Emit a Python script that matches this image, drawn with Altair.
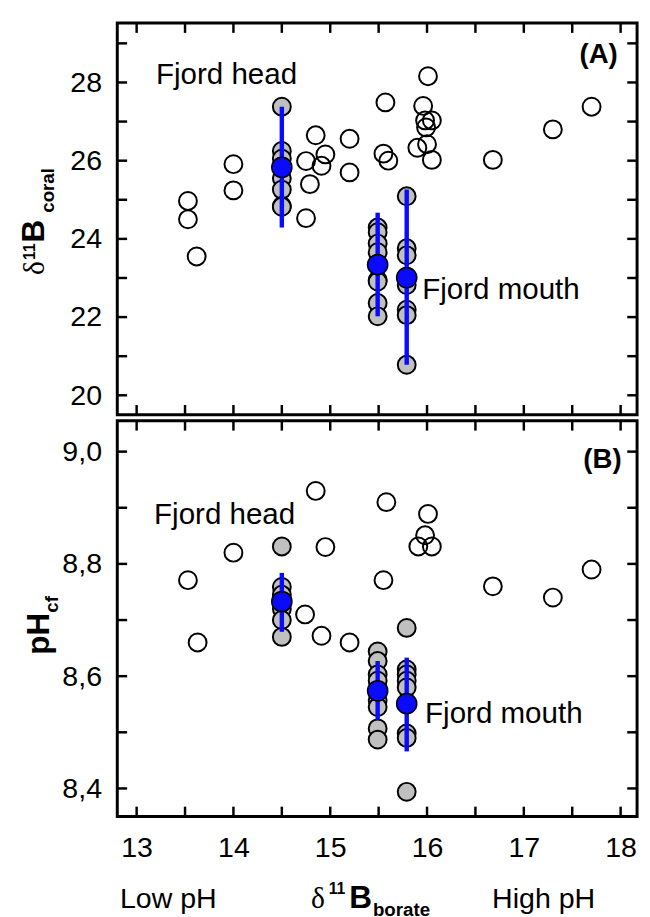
import altair as alt
import pandas as pd

FONT = "Liberation Sans"
SERIF = "Liberation Serif"

# ---------------- axes ----------------
X_DOMAIN = [12.8, 18.17]
A_DOMAIN = [19.5, 29.52]
B_DOMAIN = [8.35, 9.055]
W = 528
HA = 398
HB = 402
TL = 10  # tick length

x_labels = [13, 14, 15, 16, 17, 18]
x_ticks = [13, 13.5, 14, 14.5, 15, 15.5, 16, 16.5, 17, 17.5, 18]
a_labels = [20, 22, 24, 26, 28]
a_ticks = [20, 21, 22, 23, 24, 25, 26, 27, 28, 29]
b_labels = [8.4, 8.6, 8.8, 9.0]
b_ticks = [8.4, 8.5, 8.6, 8.7, 8.8, 8.9, 9.0]

# ---------------- panel A data ----------------
a_open_x = [13.53, 13.53, 13.62, 14.0, 14.0, 14.75, 14.85, 14.95, 14.91, 14.79, 14.75,
            15.2, 15.2, 15.57, 15.55, 15.60, 16.01, 15.96, 15.98, 16.05, 15.99, 15.90,
            16.0, 16.05, 16.68, 17.30, 17.70]
a_open_y = [24.97, 24.50, 23.55, 25.91, 25.24, 25.99, 26.65, 26.16, 25.87, 25.40, 24.53,
            26.56, 25.70, 27.49, 26.18, 26.0, 28.16, 27.40, 27.03, 27.03, 26.85, 26.33,
            26.42, 26.02, 26.02, 26.80, 27.38]
a_gray_x = [14.5, 14.5, 14.5, 14.5, 14.5, 14.5, 14.5, 14.5,
            15.49, 15.49, 15.49, 15.49, 15.49, 15.49, 15.49, 15.49, 15.49,
            15.79, 15.79, 15.79, 15.79, 15.79, 15.79, 15.79, 15.79]
a_gray_y = [27.38, 26.25, 26.05, 25.85, 25.55, 25.26, 24.84, 24.82,
            24.29, 24.17, 23.88, 23.66, 23.34, 22.95, 22.91, 22.36, 22.02,
            25.09, 23.76, 23.58, 23.03, 22.82, 22.19, 22.05, 20.78]
a_mean_x = [14.5, 15.49, 15.79]
a_mean_y = [25.83, 23.34, 23.01]
a_lo = [24.29, 22.02, 20.78]
a_hi = [27.38, 24.67, 25.26]

# ---------------- panel B data ----------------
b_open_x = [14.85, 14.0, 13.53, 13.63, 14.95, 14.74, 14.91, 15.2, 15.58, 16.01, 15.98,
            15.91, 16.05, 15.55, 16.68, 17.30, 17.70]
b_open_y = [8.930, 8.820, 8.771, 8.660, 8.830, 8.710, 8.672, 8.660, 8.910, 8.889, 8.851,
            8.831, 8.831, 8.771, 8.760, 8.740, 8.790]
b_gray_x = [14.5, 14.5, 14.5, 14.5, 14.5, 14.5,
            15.49, 15.49, 15.49, 15.49, 15.49, 15.49, 15.49, 15.49,
            15.79, 15.79, 15.79, 15.79, 15.79, 15.79, 15.79, 15.79, 15.79]
b_gray_y = [8.831, 8.759, 8.745, 8.720, 8.700, 8.670,
            8.644, 8.627, 8.603, 8.592, 8.557, 8.545, 8.507, 8.487,
            8.686, 8.612, 8.603, 8.592, 8.580, 8.551, 8.498, 8.490, 8.394]
b_mean_x = [14.5, 15.49, 15.79]
b_mean_y = [8.733, 8.574, 8.551]
b_lo = [8.679, 8.522, 8.466]
b_hi = [8.784, 8.627, 8.633]

# annotations (data coordinates)
a_notes = pd.DataFrame({"x": [13.2, 15.95], "y": [28.2, 22.7], "t": ["Fjord head", "Fjord mouth"]})
b_notes = pd.DataFrame({"x": [13.18, 15.98], "y": [8.886, 8.533], "t": ["Fjord head", "Fjord mouth"]})
a_tag = pd.DataFrame({"x": [17.97], "y": [28.7], "t": ["(A)"]})
b_tag = pd.DataFrame({"x": [18.01], "y": [8.985], "t": ["(B)"]})

# composite titles: (text, px, py, size, weight, family, angle)
a_title = [
    ("\u03b4", -74.3, 256.0, 30, "normal", SERIF, 270),
    ("11", -83.8, 240.7, 16, "bold", FONT, 270),
    ("B", -74.0, 223.0, 32, "bold", FONT, 270),
    ("coral", -64.3, 192.7, 19, "bold", FONT, 270),
]
b_title = [
    ("pH", -69.3, 237.7, 32, "bold", FONT, 270),
    ("cf", -60.3, 195.0, 19, "bold", FONT, 270),
    ("Low pH", 2.7, 495, 29, "normal", FONT, 0),
    ("\u03b4", 196.7, 495, 30, "normal", SERIF, 0),
    ("11", 214.7, 481, 16, "bold", FONT, 0),
    ("B", 235.7, 495, 32, "bold", FONT, 0),
    ("borate", 259.7, 503, 19, "bold", FONT, 0),
    ("High pH", 380.7, 495, 29, "normal", FONT, 0),
]


def text_piece(t, px, py, size, weight, family, angle):
    return alt.Chart(pd.DataFrame({"k": [0]})).mark_text(
        align="left", baseline="alphabetic", fontSize=size, fontWeight=weight,
        font=family, angle=angle, color="black"
    ).encode(x=alt.value(px), y=alt.value(py), text=alt.value(t))


def panel(open_x, open_y, gray_x, gray_y, mx, my, lo, hi, ydom, H,
          ylabels, yticks, lexpr, show_x, notes, tag, title_pieces):
    xscale = alt.Scale(domain=X_DOMAIN, nice=False, zero=False)
    yscale = alt.Scale(domain=ydom, nice=False, zero=False)
    if show_x:
        xaxis = alt.Axis(values=x_labels, title=None, labelPadding=18, format="d",
                         grid=False, domain=False, ticks=False, tickSize=0,
                         labelFont=FONT, labelFontSize=29, labelColor="black")
    else:
        xaxis = None
    yaxis = alt.Axis(values=ylabels, title=None, labelPadding=16, labelExpr=lexpr,
                     grid=False, domain=False, ticks=False, tickSize=0,
                     labelFont=FONT, labelFontSize=29, labelColor="black")

    def X():
        return alt.X("x:Q", scale=xscale, axis=xaxis)

    def Y():
        return alt.Y("y:Q", scale=yscale, axis=yaxis)

    xt = pd.DataFrame({"x": x_ticks})
    yt = pd.DataFrame({"y": yticks})
    tick_style = dict(color="black", strokeWidth=2.5)
    layers = [
        alt.Chart(xt).mark_rule(**tick_style).encode(x=X(), y=alt.value(0), y2=alt.value(TL)),
        alt.Chart(xt).mark_rule(**tick_style).encode(x=X(), y=alt.value(H - TL), y2=alt.value(H)),
        alt.Chart(yt).mark_rule(**tick_style).encode(y=Y(), x=alt.value(0), x2=alt.value(TL)),
        alt.Chart(yt).mark_rule(**tick_style).encode(y=Y(), x=alt.value(W - TL), x2=alt.value(W)),
        alt.Chart(pd.DataFrame({"x": open_x, "y": open_y})).mark_point(
            shape="circle", filled=False, size=330, stroke="black", strokeWidth=2, opacity=1
        ).encode(x=X(), y=Y()),
        alt.Chart(pd.DataFrame({"x": gray_x, "y": gray_y})).mark_point(
            shape="circle", filled=True, size=330, fill="#c0c0c0", stroke="black",
            strokeWidth=2, opacity=1, fillOpacity=1
        ).encode(x=X(), y=Y()),
        alt.Chart(pd.DataFrame({"x": mx, "y": lo, "y2": hi})).mark_rule(
            color="#0a0aff", strokeWidth=4.5
        ).encode(x=X(), y=Y(), y2="y2:Q"),
        alt.Chart(pd.DataFrame({"x": mx, "y": my})).mark_point(
            shape="circle", filled=True, size=420, fill="#0a0aff", stroke="black",
            strokeWidth=1.5, opacity=1, fillOpacity=1
        ).encode(x=X(), y=Y()),
        alt.Chart(notes).mark_text(
            align="left", baseline="middle", fontSize=30, font=FONT, color="black"
        ).encode(x=X(), y=Y(), text="t:N"),
        alt.Chart(tag).mark_text(
            align="right", baseline="middle", fontSize=28, font=FONT, fontWeight="bold",
            color="black"
        ).encode(x=X(), y=Y(), text="t:N"),
    ]
    layers += [text_piece(*p) for p in title_pieces]
    return alt.layer(*layers).properties(width=W, height=H)


panel_a = panel(a_open_x, a_open_y, a_gray_x, a_gray_y, a_mean_x, a_mean_y, a_lo, a_hi,
                A_DOMAIN, HA, a_labels, a_ticks, "format(datum.value, 'd')", False,
                a_notes, a_tag, a_title)
panel_b = panel(b_open_x, b_open_y, b_gray_x, b_gray_y, b_mean_x, b_mean_y, b_lo, b_hi,
                B_DOMAIN, HB, b_labels, b_ticks,
                "replace(format(datum.value, '.1f'), '.', ',')", True,
                b_notes, b_tag, b_title)

chart = alt.vconcat(panel_a, panel_b, spacing=0).properties(
    padding={"left": 9, "top": 5, "right": 2, "bottom": 0},
    background="white"
).configure_view(
    stroke="black", strokeWidth=3
)

chart.save("out.html", embed_options={"renderer": "svg", "actions": False})
